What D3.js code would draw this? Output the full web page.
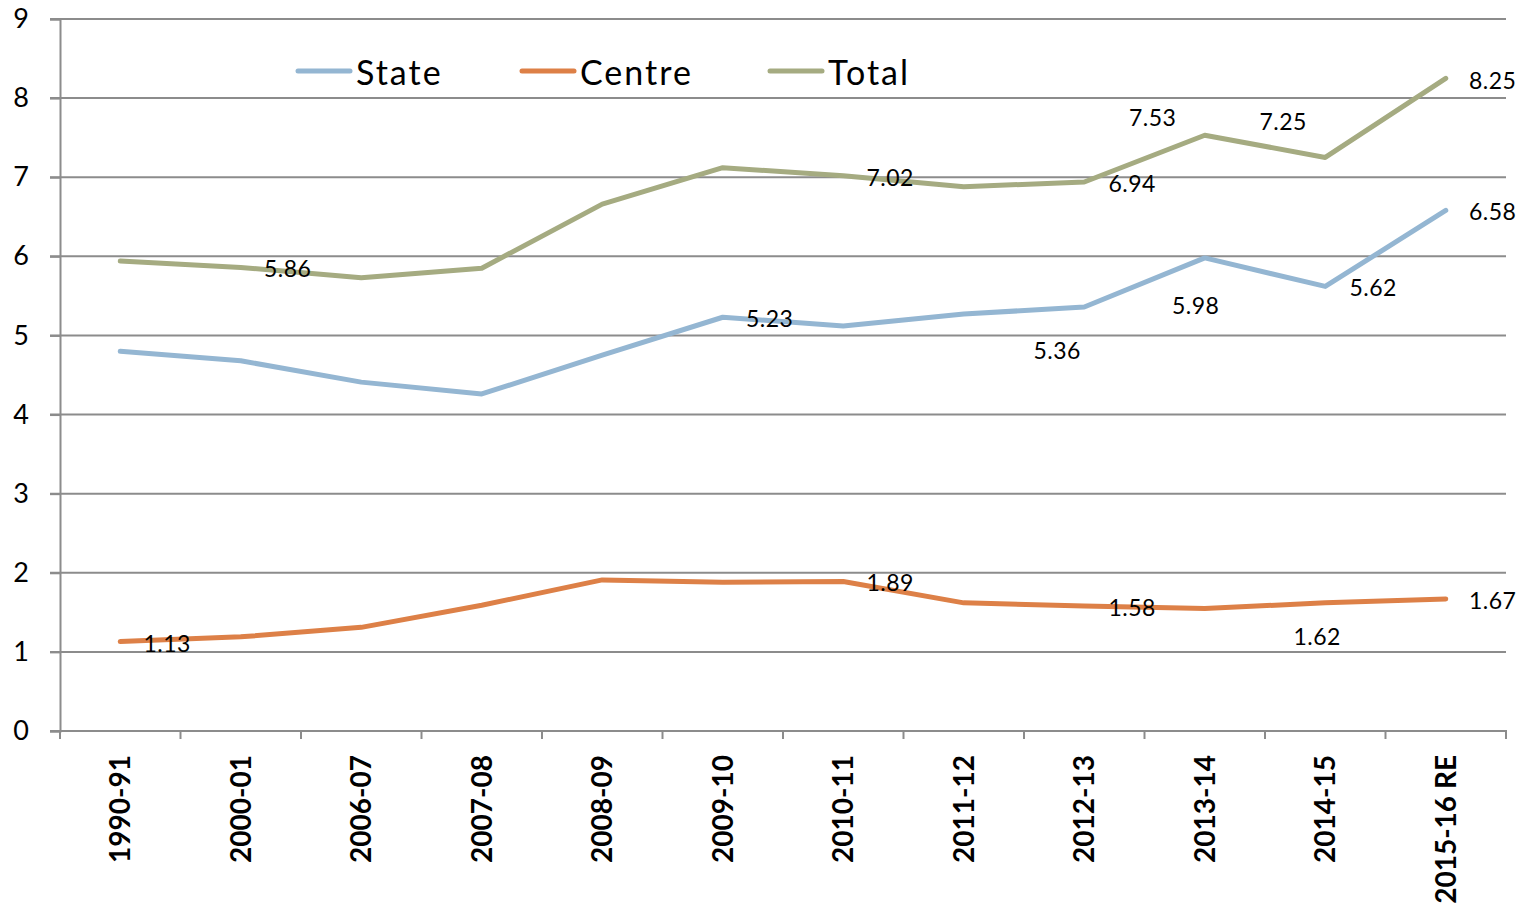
<!DOCTYPE html>
<html>
<head>
<meta charset="utf-8">
<script src="https://cdn.jsdelivr.net/npm/d3@7"></script>
<style>
  body { margin: 0; background: #fff; }
  text { font-family: "Lato", "Open Sans", sans-serif; fill: #000; }
</style>
</head>
<body>
<svg id="chart" width="1528" height="905"></svg>
<script>
// categories and series
const years = ["1990-91", "2000-01", "2006-07", "2007-08", "2008-09", "2009-10",
  "2010-11", "2011-12", "2012-13", "2013-14", "2014-15", "2015-16 RE"];
const stateVals  = [4.80, 4.68, 4.41, 4.26, 4.75, 5.23, 5.12, 5.27, 5.36, 5.98, 5.62, 6.58];
const centreVals = [1.13, 1.19, 1.31, 1.59, 1.91, 1.88, 1.89, 1.62, 1.58, 1.55, 1.62, 1.67];
const totalVals  = [5.94, 5.86, 5.73, 5.85, 6.66, 7.12, 7.02, 6.88, 6.94, 7.53, 7.25, 8.25];
const yTicks = [0, 1, 2, 3, 4, 5, 6, 7, 8, 9];

const seriesNames = ["State", "Centre", "Total"];
const seriesColors = ["#94b6d2", "#dd8047", "#a5ab81"];

// which points get a data label, and where (offset from the point)
const labelSpots = [
  { s: 2, i: 1, dx: 47, dy: 1 },
  { s: 2, i: 6, dx: 47, dy: 1 },
  { s: 2, i: 8, dx: 48, dy: 1 },
  { s: 2, i: 9, dx: -52, dy: -18 },
  { s: 2, i: 10, dx: -42, dy: -36 },
  { s: 2, i: 11, dx: 47, dy: 2 },
  { s: 0, i: 5, dx: 47, dy: 1 },
  { s: 0, i: 8, dx: -27, dy: 43 },
  { s: 0, i: 9, dx: -9, dy: 47 },
  { s: 0, i: 10, dx: 48, dy: 1 },
  { s: 0, i: 11, dx: 47, dy: 1 },
  { s: 1, i: 0, dx: 47, dy: 1 },
  { s: 1, i: 6, dx: 47, dy: 1 },
  { s: 1, i: 8, dx: 48, dy: 1 },
  { s: 1, i: 10, dx: -8, dy: 33 },
  { s: 1, i: 11, dx: 47, dy: 1 }
];

const svg = d3.select("#chart");
const plotLeft = 60, plotRight = 1506, plotTop = 19, plotBottom = 731;

const x = d3.scaleBand().domain(years).range([plotLeft, plotRight]);
const y = d3.scaleLinear().domain([0, 9]).range([plotBottom, plotTop]);
const cx = d => x(d) + x.bandwidth() / 2;

// gridlines
svg.append("g")
  .selectAll("line")
  .data(yTicks)
  .enter().append("line")
  .attr("x1", plotLeft - 10).attr("x2", plotRight)
  .attr("y1", d => y(d)).attr("y2", d => y(d))
  .attr("stroke", "#8c8c8c").attr("stroke-width", 2);

// y axis
const yAxis = svg.append("g")
  .attr("transform", `translate(${plotLeft},0)`)
  .call(d3.axisLeft(y).tickValues(yTicks).tickSize(10).tickPadding(21));
yAxis.select(".domain").attr("stroke", "#8c8c8c").attr("stroke-width", 2);
yAxis.selectAll(".tick line").attr("stroke", "#8c8c8c").attr("stroke-width", 2);
yAxis.selectAll(".tick text").style("font-size", "27px").style("font-family", "Lato");

// x axis
const xAxis = svg.append("g")
  .attr("transform", `translate(0,${plotBottom})`)
  .call(d3.axisBottom(x).tickSize(0).tickFormat(""));
xAxis.select(".domain").attr("stroke", "#8c8c8c").attr("stroke-width", 2)
  .attr("d", `M${plotLeft},8V0H${plotRight}V8`);
xAxis.selectAll(".tick").remove();

// band boundary ticks
svg.append("g")
  .selectAll("line")
  .data(years.slice(1))
  .enter().append("line")
  .attr("x1", d => x(d)).attr("x2", d => x(d))
  .attr("y1", plotBottom).attr("y2", plotBottom + 8)
  .attr("stroke", "#8c8c8c").attr("stroke-width", 2);

// rotated category labels
svg.append("g")
  .selectAll("text")
  .data(years)
  .enter().append("text")
  .attr("transform", d => `translate(${cx(d) + 10},${plotBottom + 24}) rotate(-90)`)
  .attr("text-anchor", "end")
  .style("font-size", "28px")
  .style("font-weight", "bold")
  .text(d => d);

// lines
const allVals = [stateVals, centreVals, totalVals];
const line = d3.line().x((d, i) => cx(years[i])).y(d => y(d));
svg.append("g")
  .selectAll("path")
  .data(allVals)
  .enter().append("path")
  .attr("d", d => line(d))
  .attr("fill", "none")
  .attr("stroke", (d, i) => seriesColors[i])
  .attr("stroke-width", 5)
  .attr("stroke-linecap", "round")
  .attr("stroke-linejoin", "round");

// data labels
svg.append("g")
  .selectAll("text")
  .data(labelSpots)
  .enter().append("text")
  .attr("x", d => cx(years[d.i]) + d.dx)
  .attr("y", d => y(allVals[d.s][d.i]) + d.dy)
  .attr("text-anchor", "middle")
  .attr("dominant-baseline", "central")
  .style("font-size", "23px")
  .style("letter-spacing", "0.5px")
  .text(d => allVals[d.s][d.i].toFixed(2));

// legend
const legendX = [298, 522, 770];
const legend = svg.append("g")
  .selectAll("g")
  .data(seriesNames)
  .enter().append("g")
  .attr("transform", (d, i) => `translate(${legendX[i]},71)`);
legend.append("line")
  .attr("x1", 0).attr("x2", 52)
  .attr("stroke", (d, i) => seriesColors[i])
  .attr("stroke-width", 5)
  .attr("stroke-linecap", "round");
legend.append("text")
  .attr("x", 58)
  .attr("dominant-baseline", "central")
  .style("font-size", "34px")
  .style("letter-spacing", "2px")
  .text(d => d);
</script>
</body>
</html>
